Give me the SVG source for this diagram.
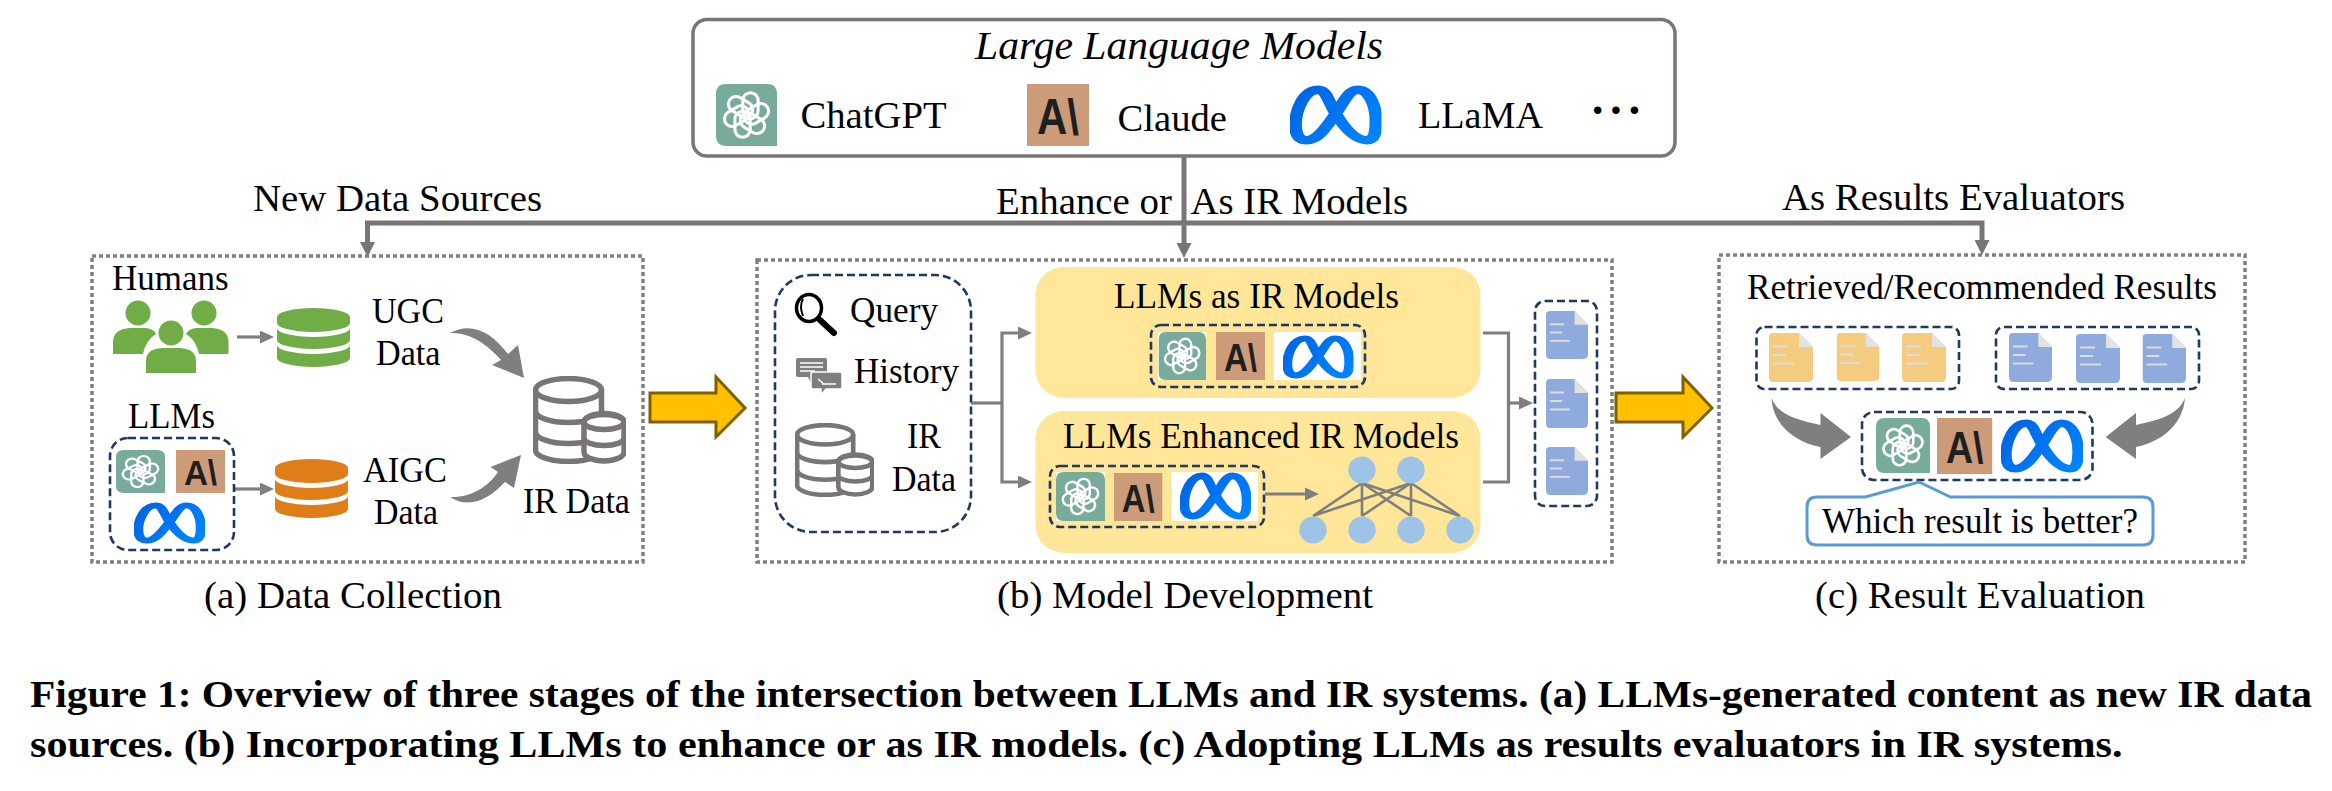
<svg xmlns="http://www.w3.org/2000/svg" width="2332" height="791" viewBox="0 0 2332 791">
<style>
text{font-family:"Liberation Serif","Times New Roman",serif;fill:#000}
.t{font-size:35px}.m{font-size:38.5px}
.cap{font-size:38px;font-weight:700}
.dot{fill:none;stroke:#7f7f7f;stroke-width:3.5;stroke-dasharray:4 3}
.dash{fill:none;stroke:#1f3864;stroke-width:2.6;stroke-dasharray:8 4}
.ln{fill:none;stroke:#7a7575;stroke-width:5}
.ln2{fill:none;stroke:#7f7f7f;stroke-width:3.2}
.curve{fill:#7f7f7f}
.big{fill:#ffc000;stroke:#7f6000;stroke-width:3}
.y{fill:#ffe699}
.edge{stroke:#7f7f7f;stroke-width:2.6}
.nn{fill:#9dc3e6}
.g{fill:#70ad47}
.o{fill:#df7d18}
.bd{fill:#8faadc}
.od{fill:#f5cc7f}
</style>
<defs>
<linearGradient id="mg" x1="0" y1="0" x2="1" y2="0.7"><stop offset="0" stop-color="#0064e0"/><stop offset="0.5" stop-color="#0072f0"/><stop offset="1" stop-color="#0082fb"/></linearGradient>
<marker id="ah" markerUnits="userSpaceOnUse" markerWidth="15" markerHeight="15" viewBox="0 0 15 15" refX="1" refY="7.5" orient="auto"><path d="M0 0L15 7.5L0 15Z" fill="#7a7575"/></marker>
<marker id="as" markerUnits="userSpaceOnUse" markerWidth="14" markerHeight="13" viewBox="0 0 14 13" refX="1" refY="6.5" orient="auto"><path d="M0 0L14 6.5L0 13Z" fill="#7f7f7f"/></marker>
<symbol id="gpt" viewBox="0 0 100 100" preserveAspectRatio="none">
<path d="M16 0H84Q100 0 100 16V100H16Q0 100 0 84V16Q0 0 16 0Z" fill="#79ab9b"/>
<g fill="none" stroke="#fff" stroke-width="5">
<rect x="44" y="14" width="25" height="42" rx="12.5"/>
<rect x="44" y="14" width="25" height="42" rx="12.5" transform="rotate(60 50 50)"/>
<rect x="44" y="14" width="25" height="42" rx="12.5" transform="rotate(120 50 50)"/>
<rect x="44" y="14" width="25" height="42" rx="12.5" transform="rotate(180 50 50)"/>
<rect x="44" y="14" width="25" height="42" rx="12.5" transform="rotate(240 50 50)"/>
<rect x="44" y="14" width="25" height="42" rx="12.5" transform="rotate(300 50 50)"/>
</g>
</symbol>
<symbol id="cl" viewBox="0 0 62 62" preserveAspectRatio="none">
<rect width="62" height="62" fill="#cc9b7a"/>
<text x="10" y="50" textLength="42" lengthAdjust="spacingAndGlyphs" style="font-family:'Liberation Sans',Arial,sans-serif;font-weight:700;font-size:50px;fill:#1f1f1f">A\</text>
</symbol>
<symbol id="meta" viewBox="0 0 100 100" preserveAspectRatio="none">
<path d="M31 8C15 8 6 42 6 66C6 83 10 92 18 92C32 92 42 64 50 48C58 30 64 8 74 8C87 8 94 35 94 60C94 80 92 92 84 92C70 92 58 68 50 48C42 28 40 8 31 8Z" fill="none" stroke="url(#mg)" stroke-width="14"/>
</symbol>
<symbol id="db" viewBox="0 0 73 59" preserveAspectRatio="none">
<path d="M0 9A36.5 9 0 0 1 73 9V15A36.5 9 0 0 1 0 15Z"/>
<path d="M0 20A36.5 9 0 0 0 73 20V32A36.5 9 0 0 1 0 32Z"/>
<path d="M0 37A36.5 9 0 0 0 73 37V50A36.5 9 0 0 1 0 50Z"/>
</symbol>
<symbol id="dbs" viewBox="0 0 93 88" preserveAspectRatio="none">
<g fill="none" stroke="#7a7575" stroke-width="5.5">
<ellipse cx="35.5" cy="14" rx="33" ry="11.5"/>
<path d="M2.500 14V74A33 11.5 0 0 0 68.500 74V14"/>
<path d="M2.500 35A33 11.5 0 0 0 68.500 35"/>
<path d="M2.500 56A33 11.5 0 0 0 68.500 56"/>
<path d="M51 46A20 8.5 0 0 1 91 46V76A20 9 0 0 1 51 76Z" fill="#fff"/>
<ellipse cx="71" cy="46" rx="20" ry="7.5"/>
<path d="M51 62A20 7.5 0 0 0 91 62"/>
</g>
</symbol>
<symbol id="doc" viewBox="0 0 44 49" preserveAspectRatio="none">
<path d="M4 0H30L44 14V44Q44 49 39 49H4Q0 49 0 44V4Q0 0 4 0Z"/>
<path d="M30 0L44 14H30Z" fill="#e2e2e2"/>
<g stroke="#dcdcdc" stroke-width="2"><path d="M4 13.500H19M4 22H17M4 30.500H25"/></g>
</symbol>
</defs>

<g id="connectors">
<path class="ln" d="M1184 156V244" marker-end="url(#ah)"/>
<path class="ln" d="M367.500 243V223H1982V241"/>
<path class="ln" d="M367.500 242V243" marker-end="url(#ah)"/>
<path class="ln" d="M1982 240V241" marker-end="url(#ah)"/>
<path class="ln2" d="M237 337H261" marker-end="url(#as)"/>
<path class="ln2" d="M235 489H261" marker-end="url(#as)"/>
<path class="curve" d="M450 333C470 322 490 330 508 354L518 345L524 378L492 365L501 360C488 345 470 332 450 333Z"/>
<path class="curve" d="M450 497C470 510 490 498 505 482L514 488L521 455L490.500 467L498 472C488 487 470 498 450 497Z"/>
<path class="big" d="M650 393H716V377L745 408L716 437V422H650Z"/>
<path class="big" d="M1616 393H1683V377L1712 408L1683 437V422H1616Z"/>
<path class="ln2" d="M971 403H1002"/>
<path class="ln2" d="M1019 333H1002V482H1019"/>
<path class="ln2" d="M1018 333H1019" marker-end="url(#as)"/>
<path class="ln2" d="M1018 482H1019" marker-end="url(#as)"/>
<path class="ln2" d="M1483 333H1508.500V482H1483"/>
<path class="ln2" d="M1508.500 403H1520" marker-end="url(#as)"/>
<path class="curve" d="M1771.500 398C1773 425 1795 442 1820.500 447V459L1851 437L1820.500 413V425C1797 420 1778 415 1771.500 398Z"/>
<path class="curve" d="M2185 398C2183 425 2161 442 2136 447V459L2105.600 437L2136 413V425C2159 420 2178 415 2185 398Z"/>
</g>

<g id="edge-labels">
<text class="m" x="253" y="210.700" textLength="289" lengthAdjust="spacingAndGlyphs">New Data Sources</text>
<text class="m" x="996" y="214" textLength="176" lengthAdjust="spacingAndGlyphs">Enhance or</text>
<text class="m" x="1190.500" y="214" textLength="217.500" lengthAdjust="spacingAndGlyphs">As IR Models</text>
<text class="m" x="1782" y="210" textLength="343" lengthAdjust="spacingAndGlyphs">As Results Evaluators</text>
</g>

<g id="llm-box">
<rect x="693" y="19.500" width="982" height="136.500" rx="14" fill="#fff" stroke="#7a7575" stroke-width="3.500"/>
<text x="975" y="59" style="font-size:41px;font-style:italic" textLength="408" lengthAdjust="spacingAndGlyphs">Large Language Models</text>
<use href="#gpt" x="716" y="84" width="61" height="62"/>
<text class="m" x="800.500" y="128" textLength="146" lengthAdjust="spacingAndGlyphs">ChatGPT</text>
<use href="#cl" x="1027" y="84" width="62" height="62"/>
<text class="m" x="1117.500" y="131" textLength="109.500" lengthAdjust="spacingAndGlyphs">Claude</text>
<use href="#meta" x="1290" y="85" width="91.500" height="60"/>
<text class="m" x="1418" y="127.500" textLength="125" lengthAdjust="spacingAndGlyphs">LLaMA</text>
<text x="1590" y="126" style="font-size:46px;font-weight:700" textLength="52" lengthAdjust="spacing">···</text>
</g>

<g id="data-collection">
<rect class="dot" x="92" y="256" width="551" height="306"/>
<text class="t" x="112" y="290" textLength="116.500" lengthAdjust="spacingAndGlyphs">Humans</text>
<g id="humans" class="g">
<ellipse cx="138" cy="313" rx="12.500" ry="12.500"/>
<ellipse cx="204" cy="313" rx="12.500" ry="12.500"/>
<path d="M113 354V342Q113 329 130 328H146Q154 329 156 334Q146 340 143 354Z"/>
<path d="M228.500 354V342Q228.500 329 212 328H196Q188 329 186 334Q196 340 199 354Z"/>
<ellipse cx="171" cy="333" rx="12.500" ry="12.500"/>
<path d="M146 373V361Q146 349 162 348H180Q196 349 196 361V373Z"/>
</g>
<use href="#db" class="g" x="277" y="308" width="73" height="59"/>
<text class="t" x="372" y="323" textLength="72" lengthAdjust="spacingAndGlyphs">UGC</text>
<text class="t" x="376" y="365" textLength="64.500" lengthAdjust="spacingAndGlyphs">Data</text>
<text class="t" x="128" y="428" textLength="87" lengthAdjust="spacingAndGlyphs">LLMs</text>
<rect class="dash" x="110" y="438" width="124" height="112" rx="18"/>
<use href="#gpt" x="116" y="450" width="49" height="43"/>
<use href="#cl" x="176" y="450" width="49" height="43"/>
<use href="#meta" x="134" y="502" width="71" height="42"/>
<use href="#db" class="o" x="275" y="459" width="73" height="59"/>
<text class="t" x="363" y="482" textLength="84" lengthAdjust="spacingAndGlyphs">AIGC</text>
<text class="t" x="374" y="524" textLength="64" lengthAdjust="spacingAndGlyphs">Data</text>
<use href="#dbs" x="533" y="376" width="93" height="88"/>
<text class="t" x="523" y="513" textLength="107" lengthAdjust="spacingAndGlyphs">IR Data</text>
<text class="m" x="204" y="608" textLength="298" lengthAdjust="spacingAndGlyphs">(a) Data Collection</text>
</g>

<g id="model-development">
<rect class="dot" x="757" y="260" width="855" height="302"/>
<rect class="dash" x="775" y="275" width="196" height="257" rx="36"/>
<g id="magnifier" fill="none" stroke="#000">
<ellipse cx="809" cy="308" rx="12.500" ry="13.500" stroke-width="3.500"/>
<path d="M820 320L834 333" stroke-width="6" stroke-linecap="round"/>
<path d="M803 299Q799 306 803 316" stroke-width="2"/>
</g>
<text class="t" x="850" y="322" textLength="88" lengthAdjust="spacingAndGlyphs">Query</text>
<g id="history-icon">
<path d="M798 358H825Q827 358 827 360V375Q827 377 825 377H816L811 383L808 377H798Q796 377 796 375V360Q796 358 798 358Z" fill="#7f7f7f"/>
<path d="M800 363H823M800 367H823M800 371H815" stroke="#fff" stroke-width="1.500"/>
<path d="M813 372H840Q842 372 842 374V387Q842 389 840 389H826L821 395V389H813Q811 389 811 387V374Q811 372 813 372Z" fill="#7f7f7f" stroke="#fff" stroke-width="1.500"/>
<path d="M822 384H836M818 379L824 384" stroke="#fff" stroke-width="1.500" fill="none"/>
</g>
<text class="t" x="854" y="383" textLength="105" lengthAdjust="spacingAndGlyphs">History</text>
<use href="#dbs" x="795" y="423" width="79" height="74"/>
<text class="t" x="907" y="448" textLength="34" lengthAdjust="spacingAndGlyphs">IR</text>
<text class="t" x="892" y="491" textLength="64" lengthAdjust="spacingAndGlyphs">Data</text>

<g id="llms-as-ir">
<rect class="y" x="1035.500" y="267" width="445" height="131" rx="28"/>
<text class="t" x="1114" y="308" textLength="285" lengthAdjust="spacingAndGlyphs">LLMs as IR Models</text>
<rect x="1151" y="325" width="214" height="62" rx="10" class="dash"/>
<rect x="1158" y="332" width="203" height="48" fill="#fff"/>
<rect x="1206" y="332" width="68" height="48" class="y"/>
<use href="#gpt" x="1158.500" y="332" width="47.500" height="48"/>
<use href="#cl" x="1216" y="332" width="49" height="48"/>
<use href="#meta" x="1283" y="335" width="70.500" height="44"/>
</g>
<g id="llms-enhanced">
<rect class="y" x="1035.500" y="411" width="445" height="142" rx="28"/>
<text class="t" x="1063" y="448" textLength="396" lengthAdjust="spacingAndGlyphs">LLMs Enhanced IR Models</text>
<rect x="1050" y="466" width="214" height="61" rx="10" class="dash"/>
<rect x="1056" y="472" width="202" height="49" fill="#fff"/>
<rect x="1105" y="472" width="66.500" height="49" class="y"/>
<use href="#gpt" x="1056" y="472" width="49" height="49"/>
<use href="#cl" x="1114" y="473" width="48.500" height="48"/>
<use href="#meta" x="1180" y="472" width="71" height="48"/>
<path class="ln2" d="M1265 494H1306" marker-end="url(#as)"/>
<g id="network">
<path class="edge" d="M1362 483L1313 516M1362 483V516M1362 483L1411 516M1362 483L1460 516M1411 483L1313 516M1411 483L1362 516M1411 483V516M1411 483L1460 516"/>
<ellipse class="nn" cx="1362" cy="470" rx="13.700" ry="13.500"/>
<ellipse class="nn" cx="1411" cy="470" rx="13.700" ry="13.500"/>
<ellipse class="nn" cx="1313" cy="530" rx="13.700" ry="13.500"/>
<ellipse class="nn" cx="1362" cy="530" rx="13.700" ry="13.500"/>
<ellipse class="nn" cx="1411" cy="530" rx="13.700" ry="13.500"/>
<ellipse class="nn" cx="1460" cy="530" rx="13.700" ry="13.500"/>
</g>
</g>
<rect class="dash" x="1535" y="301" width="62" height="205" rx="10"/>
<use href="#doc" class="bd" x="1546" y="311" width="42" height="48"/>
<use href="#doc" class="bd" x="1546" y="379" width="42" height="49"/>
<use href="#doc" class="bd" x="1546" y="447" width="42" height="48"/>
<text class="m" x="997" y="608" textLength="376" lengthAdjust="spacingAndGlyphs">(b) Model Development</text>
</g>

<g id="result-evaluation">
<rect class="dot" x="1719" y="255" width="526" height="307"/>
<text class="t" x="1747" y="299" textLength="470" lengthAdjust="spacingAndGlyphs">Retrieved/Recommended Results</text>
<rect class="dash" x="1756.500" y="327" width="202.500" height="62" rx="8"/>
<use href="#doc" class="od" x="1769" y="333" width="44" height="49"/>
<use href="#doc" class="od" x="1836.500" y="333" width="43" height="48"/>
<use href="#doc" class="od" x="1902" y="333" width="44" height="49"/>
<rect class="dash" x="1996" y="327" width="203" height="62" rx="8"/>
<use href="#doc" class="bd" x="2009" y="333" width="43" height="49"/>
<use href="#doc" class="bd" x="2076" y="334" width="44" height="49"/>
<use href="#doc" class="bd" x="2142.500" y="334" width="43.500" height="49"/>
<rect class="dash" x="1862" y="412" width="230.500" height="68" rx="12"/>
<use href="#gpt" x="1876" y="418" width="54" height="55"/>
<use href="#cl" x="1937" y="418" width="55.500" height="56"/>
<use href="#meta" x="2001" y="419" width="82" height="54"/>
<path d="M1817 497H1865.500L1919 482L1950.500 497H2143Q2153 497 2153 507V535Q2153 545 2143 545H1817Q1807 545 1807 535V507Q1807 497 1817 497Z" fill="#fff" stroke="#5b9bd5" stroke-width="3"/>
<text class="t" x="1822" y="533" textLength="316" lengthAdjust="spacingAndGlyphs">Which result is better?</text>
<text class="m" x="1815" y="608" textLength="330" lengthAdjust="spacingAndGlyphs">(c) Result Evaluation</text>
</g>

<g id="caption">
<text class="cap" x="30" y="707" textLength="2282" lengthAdjust="spacingAndGlyphs">Figure 1: Overview of three stages of the intersection between LLMs and IR systems. (a) LLMs-generated content as new IR data</text>
<text class="cap" x="30" y="757" textLength="2092.500" lengthAdjust="spacingAndGlyphs">sources. (b) Incorporating LLMs to enhance or as IR models. (c) Adopting LLMs as results evaluators in IR systems.</text>
</g>
</svg>
